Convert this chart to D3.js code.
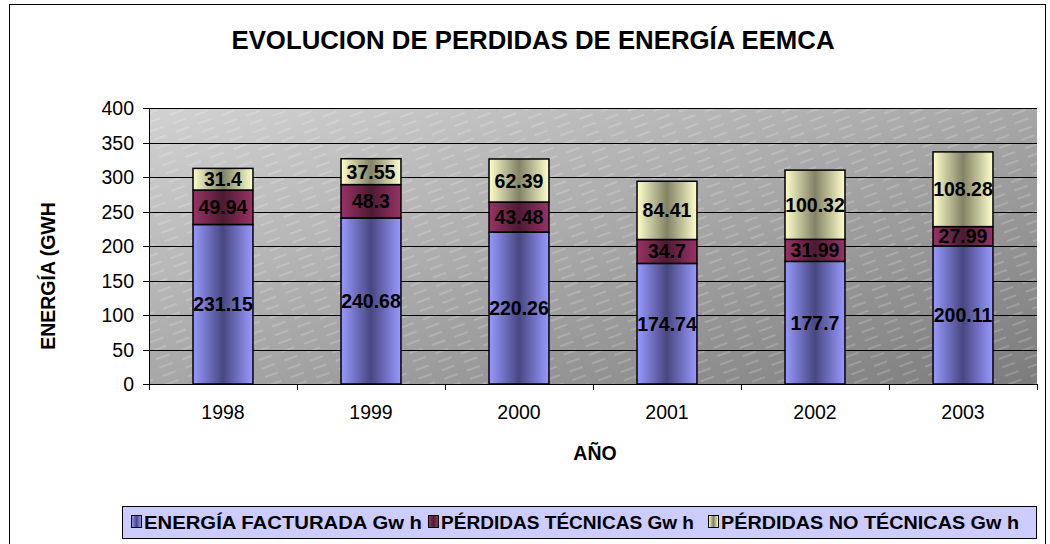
<!DOCTYPE html>
<html>
<head>
<meta charset="utf-8">
<script src="https://cdn.jsdelivr.net/npm/d3@7.9.0/dist/d3.min.js"></script>
<style>
  body { margin: 0; background: #fff; }
  text { font-family: "Liberation Sans", Arial, sans-serif; }
</style>
</head>
<body>
<svg id="chart" width="1050" height="544"></svg>
<script>
// data
const years = ['1998', '1999', '2000', '2001', '2002', '2003'];
const facturada = [231.15, 240.68, 220.26, 174.74, 177.7, 200.11];
const tecnicas = [49.94, 48.3, 43.48, 34.7, 31.99, 27.99];
const noTecnicas = [31.4, 37.55, 62.39, 84.41, 100.32, 108.28];
const seriesNames = ['ENERGÍA FACTURADA Gw h', 'PÉRDIDAS TÉCNICAS Gw h', 'PÉRDIDAS NO TÉCNICAS Gw h'];
const yTicks = [0, 50, 100, 150, 200, 250, 300, 350, 400];

const svg = d3.select('#chart');
const defs = svg.append('defs');

// plot area
const plot = {left: 149, right: 1037, top: 108, bottom: 384};

// outer border
svg.append('rect').attr('x', 9.5).attr('y', 4.5).attr('width', 1036).attr('height', 560)
  .attr('fill', '#fff').attr('stroke', '#000').attr('stroke-width', 1);

// background gradient + diagonal streaks
let bg = defs.append('linearGradient').attr('id', 'bg')
  .attr('x1', '0%').attr('y1', '0%').attr('x2', '100%').attr('y2', '100%');
bg.append('stop').attr('offset', '0%').attr('stop-color', '#d2d2d2');
bg.append('stop').attr('offset', '100%').attr('stop-color', '#7c7c7c');

let pat = defs.append('pattern').attr('id', 'streaks').attr('patternUnits', 'userSpaceOnUse')
  .attr('width', 24).attr('height', 9).attr('patternTransform', 'rotate(-20)');
pat.append('line').attr('x1', 0).attr('y1', 4).attr('x2', 14).attr('y2', 4)
  .attr('stroke', '#fff').attr('stroke-opacity', 0.35).attr('stroke-width', 1);

svg.append('rect').attr('x', plot.left).attr('y', plot.top)
  .attr('width', plot.right - plot.left).attr('height', plot.bottom - plot.top)
  .attr('fill', 'url(#bg)');
svg.append('rect').attr('x', plot.left).attr('y', plot.top)
  .attr('width', plot.right - plot.left).attr('height', plot.bottom - plot.top)
  .attr('fill', 'url(#streaks)');

// scales
let x = d3.scaleBand().domain(years).range([plot.left, plot.right]).paddingInner(0.595).paddingOuter(0.2975);
let xb = d3.scaleBand().domain(years).range([plot.left, plot.right]);
let y = d3.scaleLinear().domain([0, 400]).range([plot.bottom, plot.top]);

// gridlines
svg.append('g').selectAll('line').data(yTicks.slice(1)).join('line')
  .attr('x1', plot.left).attr('x2', plot.right)
  .attr('y1', d => Math.round(y(d)) + 0.5).attr('y2', d => Math.round(y(d)) + 0.5)
  .attr('stroke', '#000').attr('stroke-width', 1);

// bar gradients (cylinder-ish shading)
function shade(id, edge, mid) {
  let g = defs.append('linearGradient').attr('id', id).attr('x1', '0%').attr('x2', '100%').attr('y1', 0).attr('y2', 0);
  g.append('stop').attr('offset', '0%').attr('stop-color', edge);
  g.append('stop').attr('offset', '50%').attr('stop-color', mid);
  g.append('stop').attr('offset', '100%').attr('stop-color', edge);
}
shade('g0', '#9999ff', '#474780');
shade('g1', '#993366', '#4d1a33');
shade('g2', '#ffffcc', '#828266');
const fills = ['url(#g0)', 'url(#g1)', 'url(#g2)'];

let table = years.map((yr, i) => ({year: yr, s0: facturada[i], s1: tecnicas[i], s2: noTecnicas[i]}));
let stacked = d3.stack().keys(['s0', 's1', 's2'])(table);

stacked.forEach((layer, k) => {
  let g = svg.append('g');
  g.selectAll('rect').data(layer).join('rect')
    .attr('x', d => x(d.data.year))
    .attr('width', x.bandwidth())
    .attr('y', d => y(d[1]))
    .attr('height', d => y(d[0]) - y(d[1]))
    .attr('fill', fills[k])
    .attr('stroke', '#000').attr('stroke-width', 1.5);
  g.selectAll('text').data(layer).join('text')
    .attr('x', d => x(d.data.year) + x.bandwidth() / 2)
    .attr('y', d => (y(d[0]) + y(d[1])) / 2)
    .attr('dy', '0.36em')
    .attr('text-anchor', 'middle')
    .attr('font-weight', 'bold').attr('font-size', 19.5)
    .text(d => d.data['s' + k]);
});

// y axis
svg.append('line').attr('x1', plot.left + 0.5).attr('x2', plot.left + 0.5)
  .attr('y1', plot.top).attr('y2', plot.bottom).attr('stroke', '#000');
let ya = svg.append('g');
ya.selectAll('line').data(yTicks).join('line')
  .attr('x1', plot.left - 6).attr('x2', plot.left)
  .attr('y1', d => Math.round(y(d)) + 0.5).attr('y2', d => Math.round(y(d)) + 0.5)
  .attr('stroke', '#000');
ya.selectAll('text').data(yTicks).join('text')
  .attr('x', plot.left - 15).attr('y', d => y(d)).attr('dy', '0.36em')
  .attr('text-anchor', 'end').attr('font-size', 19.5).text(d => d);

// x axis
svg.append('line').attr('x1', plot.left).attr('x2', plot.right)
  .attr('y1', plot.bottom + 0.5).attr('y2', plot.bottom + 0.5).attr('stroke', '#000');
let xa = svg.append('g');
xa.selectAll('line').data(years.concat(['end'])).join('line')
  .attr('x1', (d, i) => Math.round(plot.left + i * xb.bandwidth()) + 0.5)
  .attr('x2', (d, i) => Math.round(plot.left + i * xb.bandwidth()) + 0.5)
  .attr('y1', plot.bottom).attr('y2', plot.bottom + 6).attr('stroke', '#000');
xa.selectAll('text').data(years).join('text')
  .attr('x', d => xb(d) + xb.bandwidth() / 2).attr('y', 419)
  .attr('text-anchor', 'middle').attr('font-size', 19.5).text(d => d);

// titles
svg.append('text').attr('x', 533).attr('y', 49).attr('text-anchor', 'middle')
  .attr('font-weight', 'bold').attr('font-size', 26)
  .attr('textLength', 603).attr('lengthAdjust', 'spacingAndGlyphs')
  .text('EVOLUCION DE PERDIDAS DE ENERGÍA EEMCA');
svg.append('text').attr('x', 595).attr('y', 460).attr('text-anchor', 'middle')
  .attr('font-weight', 'bold').attr('font-size', 19.5).text('AÑO');
svg.append('text').attr('transform', 'translate(55,276) rotate(-90)').attr('text-anchor', 'middle')
  .attr('font-weight', 'bold').attr('font-size', 19.5).text('ENERGÍA (GWH');

// legend
svg.append('rect').attr('x', 122.5).attr('y', 506.5).attr('width', 914).attr('height', 32)
  .attr('fill', '#ccccff').attr('stroke', '#000');
const legX = [131, 428, 708];
const legW = [278, 253, 298];
seriesNames.forEach((name, k) => {
  let g = svg.append('g').attr('transform', `translate(${legX[k]},515)`);
  g.append('rect').attr('x', 0.5).attr('y', 0.5).attr('width', 10).attr('height', 12)
    .attr('fill', fills[k]).attr('stroke', '#000');
  g.append('text').attr('x', 13).attr('y', 7).attr('dy', '0.36em')
    .attr('font-weight', 'bold').attr('font-size', 19)
    .attr('textLength', legW[k]).attr('lengthAdjust', 'spacingAndGlyphs')
    .text(name);
});
</script>
</body>
</html>
